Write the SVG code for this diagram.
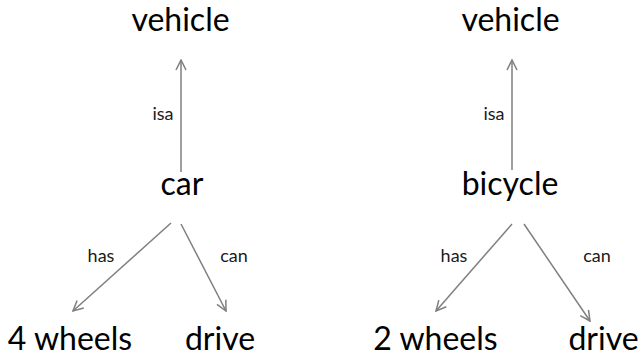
<svg xmlns="http://www.w3.org/2000/svg" width="644" height="356" viewBox="0 0 644 356">
<style>
.big{font-family:Lato,"Open Sans",sans-serif;font-size:32px;fill:#000;text-anchor:middle}
.lbl{font-family:Lato,"Open Sans",sans-serif;font-size:18px;fill:#1a1a1a;text-anchor:middle}
.edge{stroke:#7f7f7f;stroke-width:1.5;fill:none;marker-end:url(#arr)}
</style>
<defs>
<marker id="arr" viewBox="0 0 12 12" refX="11" refY="6" markerWidth="12" markerHeight="12" markerUnits="userSpaceOnUse" orient="auto">
<path d="M1,1 L11,6 L1,11" fill="none" stroke="#7f7f7f" stroke-width="1.5"/>
</marker>
</defs>
<rect width="644" height="356" fill="#fff"/>
<g id="connectors">
<line class="edge" x1="181" y1="172" x2="181" y2="60"/>
<line class="edge" x1="171" y1="223" x2="73" y2="311"/>
<line class="edge" x1="181" y1="224" x2="226" y2="311"/>
<line class="edge" x1="512" y1="170" x2="512" y2="60"/>
<line class="edge" x1="512" y1="224" x2="436" y2="311"/>
<line class="edge" x1="524" y1="224" x2="590" y2="321"/>
<text class="lbl" x="163" y="120">isa</text>
<text class="lbl" x="101" y="262">has</text>
<text class="lbl" x="234" y="262">can</text>
<text class="lbl" x="494" y="120">isa</text>
<text class="lbl" x="454" y="262">has</text>
<text class="lbl" x="597" y="262">can</text>
</g>
<g id="vehicle1"><text class="big" x="180.5" y="31">vehicle</text></g>
<g id="car"><text class="big" x="182" y="195">car</text></g>
<g id="wheels4"><text class="big" x="70" y="350">4 wheels</text></g>
<g id="drive1"><text class="big" x="220" y="350">drive</text></g>
<g id="vehicle2"><text class="big" x="510.5" y="31">vehicle</text></g>
<g id="bicycle"><text class="big" x="510" y="195">bicycle</text></g>
<g id="wheels2"><text class="big" x="435.5" y="350">2 wheels</text></g>
<g id="drive2"><text class="big" x="603.5" y="350">drive</text></g>
</svg>
